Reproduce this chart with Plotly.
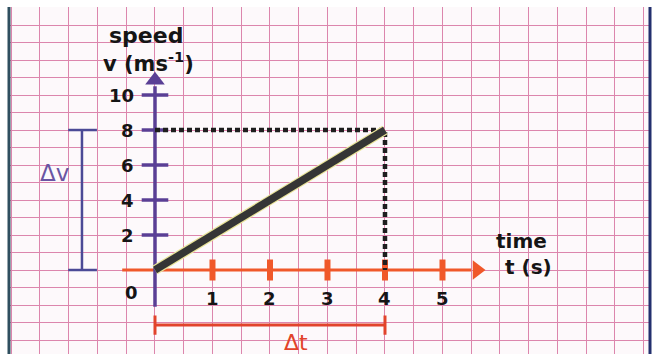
import plotly.graph_objects as go

# ---- data ----
time_s = [0, 4]
speed_ms = [0, 8]
x_ticks = [1, 2, 3, 4, 5]
x_tick_labels = ["1", "2", "3", "4", "5"]
y_ticks = [2, 4, 6, 8, 10]
y_tick_labels = ["2", "4", "6", "8", "10"]
origin_label = "0"

t_end, v_end = time_s[-1], speed_ms[-1]

PINK = "#dc86ad"
ORANGE = "#f0582a"
PURPLE = "#5a3f95"
BRACKET_V = "#4b4a96"
DT_RED = "#e2432b"
TXT = "#151515"
FONT = "DejaVu Sans"

fig = go.Figure()

# orange time axis
fig.add_trace(go.Scatter(x=[-0.57, 5.5], y=[0, 0], mode="lines",
                         line=dict(color=ORANGE, width=3), hoverinfo="skip"))
fig.add_trace(go.Scatter(x=[5.6], y=[0], mode="markers",
                         marker=dict(symbol="triangle-right", size=17, color=ORANGE), hoverinfo="skip"))
fig.add_trace(go.Scatter(x=x_ticks, y=[0] * len(x_ticks), mode="markers",
                         marker=dict(symbol="line-ns", size=15, line=dict(width=6, color=ORANGE)),
                         hoverinfo="skip"))

# purple speed axis
fig.add_trace(go.Scatter(x=[0, 0], y=[-2.1, 10.5], mode="lines",
                         line=dict(color=PURPLE, width=3.5), hoverinfo="skip"))
fig.add_trace(go.Scatter(x=[0], y=[10.85], mode="markers",
                         marker=dict(symbol="triangle-up", size=17, color=PURPLE), hoverinfo="skip"))
fig.add_trace(go.Scatter(x=[0] * len(y_ticks), y=y_ticks, mode="markers",
                         marker=dict(symbol="line-ew", size=19, line=dict(width=3.5, color=PURPLE)),
                         hoverinfo="skip"))

# dashed guides
fig.add_trace(go.Scatter(x=[0, t_end, t_end], y=[v_end, v_end, 0], mode="lines",
                         line=dict(color="#1e1e1e", width=4.5, dash="5px,3px"), hoverinfo="skip"))

# speed line (with faint yellow halo)
fig.add_trace(go.Scatter(x=time_s, y=speed_ms, mode="lines",
                         line=dict(color="#e9e49a", width=10), hoverinfo="skip"))
fig.add_trace(go.Scatter(x=time_s, y=speed_ms, mode="lines",
                         line=dict(color="#353535", width=7.5), hoverinfo="skip"))

# delta-v bracket
fig.add_trace(go.Scatter(x=[-1.27, -1.27], y=[0, v_end], mode="lines",
                         line=dict(color=BRACKET_V, width=2.5), hoverinfo="skip"))
fig.add_trace(go.Scatter(x=[-1.51, -1.01, None, -1.51, -1.01], y=[0, 0, None, v_end, v_end], mode="lines",
                         line=dict(color=BRACKET_V, width=2.5), hoverinfo="skip"))

# delta-t bracket
fig.add_trace(go.Scatter(x=[0, t_end], y=[-3.14, -3.14], mode="lines",
                         line=dict(color=DT_RED, width=3), hoverinfo="skip"))
fig.add_trace(go.Scatter(x=[0, 0, None, t_end, t_end], y=[-2.6, -3.7, None, -2.6, -3.7], mode="lines",
                         line=dict(color=DT_RED, width=3), hoverinfo="skip"))

B = "bold"
ann = []
for xv, lab in zip(x_ticks, x_tick_labels):
    ann.append(dict(x=xv, y=-1.6, text=lab, showarrow=False,
                    font=dict(family=FONT, size=18, color=TXT, weight=B)))
for yv, lab in zip(y_ticks, y_tick_labels):
    ann.append(dict(x=-0.33, y=yv, text=lab, showarrow=False, xanchor="right",
                    font=dict(family=FONT, size=18, color=TXT, weight=B)))
ann.append(dict(x=-0.4, y=-1.31, text=origin_label, showarrow=False,
                font=dict(family=FONT, size=18, color=TXT, weight=B)))
ann.append(dict(x=-0.16, y=13.43, text="speed", showarrow=False,
                font=dict(family=FONT, size=22, color=TXT, weight=B)))
ann.append(dict(x=-0.12, y=11.89, text="v (ms<sup>-1</sup>)", showarrow=False,
                font=dict(family=FONT, size=21, color=TXT, weight=B)))
ann.append(dict(x=6.37, y=1.66, text="time", showarrow=False,
                font=dict(family=FONT, size=20, color=TXT, weight=B)))
ann.append(dict(x=6.49, y=0.17, text="t (s)", showarrow=False,
                font=dict(family=FONT, size=20, color=TXT, weight=B)))
ann.append(dict(x=-1.74, y=5.54, text="Δv", showarrow=False,
                font=dict(family=FONT, size=23, color="#6a55a3")))
ann.append(dict(x=2.45, y=-4.17, text="Δt", showarrow=False,
                font=dict(family=FONT, size=22, color=DT_RED)))

fig.update_layout(
    width=655, height=354,
    margin=dict(l=9, r=5, t=7, b=0),
    paper_bgcolor="white", plot_bgcolor="#fdf9fb",
    showlegend=False,
    annotations=ann,
    xaxis=dict(range=[-2.539, 8.609], tick0=0, dtick=0.5, showgrid=True, gridcolor=PINK,
               gridwidth=1.3, zeroline=False, showticklabels=False, ticks="", fixedrange=True),
    yaxis=dict(range=[-4.8, 15.03], tick0=0, dtick=1, showgrid=True, gridcolor=PINK,
               gridwidth=1.3, zeroline=False, showticklabels=False, ticks="", fixedrange=True),
    shapes=[
        dict(type="line", xref="paper", yref="paper", x0=0, x1=0, y0=0, y1=1,
             line=dict(color="#2f4f5f", width=3)),
        dict(type="line", xref="paper", yref="paper", x0=1, x1=1, y0=0, y1=1,
             line=dict(color="#23306e", width=3)),
    ],
)

fig.write_html("out.html", config={"displayModeBar": False},
               post_script="document.body.style.margin='0px';document.body.style.overflow='hidden';")
